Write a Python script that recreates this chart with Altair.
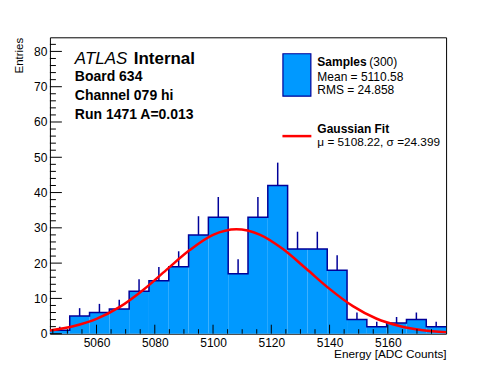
import altair as alt
import pandas as pd
import math

# ---- data ----
bin_low = 5044.0
bin_width = 6.8
counts = [1, 5, 6, 7, 12, 15, 19, 28, 33, 17, 33, 42, 24, 24, 18, 4, 2, 3, 4, 2]

fit_x = [5044, 5052, 5060, 5068, 5076, 5084, 5092, 5100, 5108, 5116, 5124,
         5132, 5140, 5148, 5156, 5164, 5172, 5180]
fit_y = [0.9, 2.1, 4.2, 7.6, 12.4, 18.1, 23.7, 28.0, 29.6, 28.1, 24.0,
         18.4, 12.7, 7.8, 4.3, 2.2, 1.0, 0.4]

x_major = [5060, 5080, 5100, 5120, 5140, 5160]
x_minor = [5045, 5050, 5055, 5065, 5070, 5075, 5085, 5090, 5095, 5105, 5110,
           5115, 5125, 5130, 5135, 5145, 5150, 5155, 5165, 5170, 5175]
y_major = [0, 10, 20, 30, 40, 50, 60, 70, 80]
y_minor = [2, 4, 6, 8, 12, 14, 16, 18, 22, 24, 26, 28, 32, 34, 36, 38, 42, 44,
           46, 48, 52, 54, 56, 58, 62, 64, 66, 68, 72, 74, 76, 78, 82]

x_domain = [5044, 5180]
y_domain = [0, 84]

FONT = "Liberation Sans"
FILL = "#0099ff"
LINE = "#000099"
W, H = 397, 297

# ---- tables ----
edges = [bin_low + bin_width * i for i in range(len(counts) + 1)]
hist = pd.DataFrame({
    "lo": edges[:-1],
    "hi": edges[1:],
    "mid": [(a + b) / 2 for a, b in zip(edges[:-1], edges[1:])],
    "n": counts,
    "top": [c + math.sqrt(c) for c in counts],
})
step = pd.DataFrame({"x": edges, "n": counts + [counts[-1]]})
fit = pd.DataFrame({"x": fit_x, "y": fit_y})

xs = alt.Scale(domain=x_domain, nice=False, zero=False)
ys = alt.Scale(domain=y_domain, nice=False)

x_axis = alt.Axis(values=x_major, format="d", ticks=False, domain=False, grid=False,
                  labelFont=FONT, labelFontSize=12, labelColor="black",
                  labelPadding=4, title="Energy [ADC Counts]",
                  titleFont=FONT, titleFontSize=11.8, titleFontWeight="normal",
                  titleColor="black", titleX=W, titleY=24, titleAlign="right",
                  titleBaseline="alphabetic", labelFlush=False)
y_axis = alt.Axis(values=y_major, format="d", ticks=False, domain=False, grid=False,
                  labelFont=FONT, labelFontSize=12, labelColor="black",
                  labelPadding=3, title="Entries",
                  titleFont=FONT, titleFontSize=11.5, titleFontWeight="normal",
                  titleColor="black", titleX=-27, titleY=0, titleAngle=270,
                  titleAlign="right", titleBaseline="alphabetic")


def X(field):
    return alt.X(field, type="quantitative", scale=xs, axis=x_axis)


def Y(field):
    return alt.Y(field, type="quantitative", scale=ys, axis=y_axis)


bars = alt.Chart(hist).mark_rect(fill=FILL, stroke=None).encode(
    x=X("lo"), x2="hi", y=Y("n"), y2=alt.datum(0)
)
errs = alt.Chart(hist).mark_rule(color=LINE, strokeWidth=1.5).encode(
    x=X("mid"), y=Y("n"), y2="top"
)
outline = alt.Chart(step).mark_line(color=LINE, strokeWidth=1.5,
                                    interpolate="step-after").encode(
    x=X("x"), y=Y("n")
)
curve = alt.Chart(fit).mark_line(color="#ff0000", strokeWidth=2.5,
                                 interpolate="monotone", clip=True).encode(
    x=X("x"), y=Y("y")
)

xmaj = alt.Chart(pd.DataFrame({"v": x_major})).mark_rule(color="black").encode(
    x=X("v"), y=alt.value(H), y2=alt.value(H - 9))
xmin = alt.Chart(pd.DataFrame({"v": x_minor})).mark_rule(color="black").encode(
    x=X("v"), y=alt.value(H), y2=alt.value(H - 4.5))
ymaj = alt.Chart(pd.DataFrame({"v": y_major})).mark_rule(color="black").encode(
    y=Y("v"), x=alt.value(0), x2=alt.value(12))
ymin = alt.Chart(pd.DataFrame({"v": y_minor})).mark_rule(color="black").encode(
    y=Y("v"), x=alt.value(0), x2=alt.value(6))


def label(text, x, y, size=14, weight="bold", style="normal"):
    return alt.Chart(pd.DataFrame({"t": [text]})).mark_text(
        align="left", baseline="alphabetic", font=FONT, fontSize=size,
        fontWeight=weight, fontStyle=style, color="black"
    ).encode(text="t:N", x=alt.value(x), y=alt.value(y))


texts = [
    label("ATLAS", 25, 26.5, size=17, weight="normal", style="italic"),
    label("Internal", 84, 26.5, size=17, weight="bold"),
    label("Board 634", 25, 44, size=14),
    label("Channel 079 hi", 25, 62.5, size=14),
    label("Run 1471 A=0.013", 25, 81.5, size=14),
    label("Samples", 268, 28.5, size=12),
    label("(300)", 320, 28.5, size=12, weight="normal"),
    label("Mean = 5110.58", 268, 43.5, size=12, weight="normal"),
    label("RMS = 24.858", 268, 57, size=12, weight="normal"),
    label("Gaussian Fit", 268, 95.5, size=12),
    label("\u03bc = 5108.22, \u03c3 =24.399", 268, 108.5, size=11.8, weight="normal"),
]

leg_box = alt.Chart(pd.DataFrame({"a": [0]})).mark_rect(
    fill=FILL, stroke=LINE, strokeWidth=1.2
).encode(x=alt.value(233.5), x2=alt.value(261.5), y=alt.value(16.5), y2=alt.value(59))
leg_line = alt.Chart(pd.DataFrame({"a": [0]})).mark_rule(
    color="#ff0000", strokeWidth=2.5
).encode(x=alt.value(233), x2=alt.value(262), y=alt.value(99))

chart = alt.layer(
    bars, errs, outline, curve, xmin, xmaj, ymin, ymaj, leg_box, leg_line, *texts
).properties(
    width=W, height=H,
    autosize=alt.AutoSizeParams(type="none"),
    padding={"left": 42, "top": 29, "right": 42, "bottom": 28},
    background="white",
).configure_view(stroke="black", strokeWidth=1)

chart.save("out.html", embed_options={"renderer": "svg", "actions": False})
